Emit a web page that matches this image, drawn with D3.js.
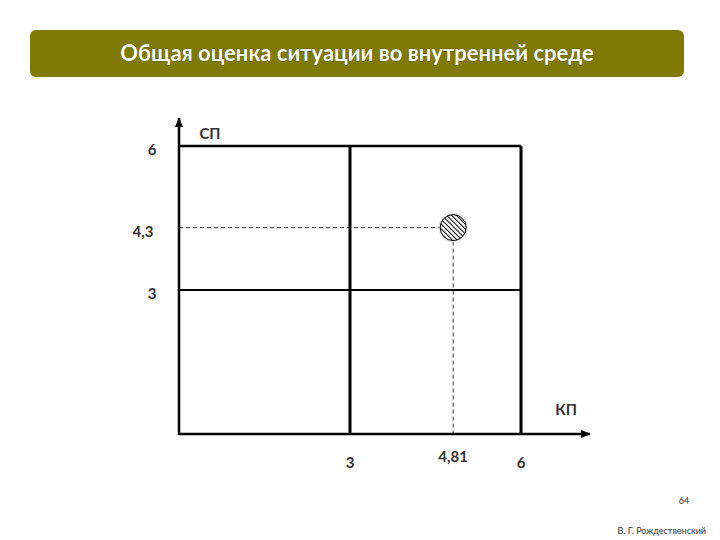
<!DOCTYPE html>
<html>
<head>
<meta charset="utf-8">
<script src="https://cdn.jsdelivr.net/npm/d3@7"></script>
<style>
  body { margin: 0; background: #fff; }
  text { font-family: Lato, "Open Sans", "DejaVu Sans", sans-serif; }
</style>
</head>
<body>
<svg id="chart" width="720" height="540"></svg>
<script>
// chart values
const title = "Общая оценка ситуации во внутренней среде";
const domainMax = 6;
const gridValues = [3, 6];            // quadrant lines on both axes
const xTickLabels = [[3, "3"], [4.81, "4,81"], [6, "6"]];
const yTickLabels = [[6, "6"], [4.3, "4,3"], [3, "3"]];
const point = { x: 4.81, y: 4.3 };
const xName = "КП";
const yName = "СП";
const pageNo = "64";
const author = "В. Г. Рождественский";

const svg = d3.select("#chart");

const x = d3.scaleLinear().domain([0, domainMax]).range([179, 521]);
const y = d3.scaleLinear().domain([0, domainMax]).range([434, 146]);

// title bar
svg.append("rect")
  .attr("x", 30).attr("y", 30).attr("width", 654).attr("height", 47)
  .attr("rx", 6).attr("fill", "#7e7a04");
svg.append("text")
  .attr("x", 357).attr("y", 61)
  .attr("text-anchor", "middle")
  .attr("fill", "#fff")
  .attr("font-size", 22).attr("font-weight", "bold")
  .style("paint-order", "stroke").attr("stroke", "#4a4700").attr("stroke-width", 0.6)
  .text(title);

const defs = svg.append("defs");
defs.append("marker")
  .attr("id", "arrow").attr("viewBox", "0 0 10 10")
  .attr("refX", 9).attr("refY", 5)
  .attr("markerWidth", 4).attr("markerHeight", 4)
  .attr("orient", "auto")
  .append("path").attr("d", "M0,1 L10,5 L0,9 Z").attr("fill", "#000");

const hatch = defs.append("pattern")
  .attr("id", "hatch").attr("patternUnits", "userSpaceOnUse")
  .attr("width", 3.4).attr("height", 3.4)
  .attr("patternTransform", "rotate(-45)");
hatch.append("rect").attr("width", 3.4).attr("height", 3.4).attr("fill", "#fff");
hatch.append("line").attr("x1", 0).attr("y1", 0).attr("x2", 0).attr("y2", 3.4)
  .attr("stroke", "#000").attr("stroke-width", 2);

// quadrant lines
const g = svg.append("g").attr("stroke", "#000").attr("fill", "none");
gridValues.forEach(v => {
  g.append("line")
    .attr("x1", x(0)).attr("x2", x(domainMax))
    .attr("y1", y(v)).attr("y2", y(v))
    .attr("stroke-width", v === domainMax ? 2.5 : 2);
  g.append("line")
    .attr("x1", x(v)).attr("x2", x(v))
    .attr("y1", y(0)).attr("y2", y(domainMax))
    .attr("stroke-width", 3);
});

// axes with arrows
g.append("line")
  .attr("x1", x(0)).attr("y1", y(0)).attr("x2", 590).attr("y2", y(0))
  .attr("stroke-width", 2.5).attr("marker-end", "url(#arrow)");
g.append("line")
  .attr("x1", x(0)).attr("y1", y(0) + 1).attr("x2", x(0)).attr("y2", 118)
  .attr("stroke-width", 2.5).attr("marker-end", "url(#arrow)");

// dashed guides to the point
g.append("line")
  .attr("x1", x(0)).attr("x2", x(point.x))
  .attr("y1", y(point.y)).attr("y2", y(point.y))
  .attr("stroke-width", 0.8).attr("stroke-dasharray", "4,3");
g.append("line")
  .attr("x1", x(point.x)).attr("x2", x(point.x))
  .attr("y1", y(point.y)).attr("y2", y(0))
  .attr("stroke-width", 0.8).attr("stroke-dasharray", "4,3");

// point
svg.append("circle")
  .attr("cx", x(point.x)).attr("cy", y(point.y)).attr("r", 15)
  .attr("fill", "#ddd").attr("opacity", 0.6);
svg.append("circle")
  .attr("cx", x(point.x)).attr("cy", y(point.y)).attr("r", 13)
  .attr("fill", "url(#hatch)").attr("stroke", "#000").attr("stroke-width", 1);

// tick labels
const labelStyle = sel => sel
  .attr("font-size", 15).attr("font-weight", "bold").attr("fill", "#333");

svg.selectAll(".xlab").data(xTickLabels).join("text")
  .attr("class", "xlab")
  .attr("x", d => x(d[0]))
  .attr("y", d => d[0] === point.x ? 462 : 468)
  .attr("text-anchor", "middle")
  .text(d => d[1])
  .call(labelStyle);

svg.selectAll(".ylab").data(yTickLabels).join("text")
  .attr("class", "ylab")
  .attr("x", d => d[0] === point.y ? 143 : 152)
  .attr("y", d => y(d[0]) + 9)
  .attr("text-anchor", "middle")
  .text(d => d[1])
  .call(labelStyle);

svg.append("text").attr("x", 210).attr("y", 139).attr("text-anchor", "middle")
  .text(yName).call(labelStyle);
svg.append("text").attr("x", 566).attr("y", 415).attr("text-anchor", "middle")
  .text(xName).call(labelStyle);

// footer
svg.append("text").attr("x", 684).attr("y", 504).attr("text-anchor", "middle")
  .attr("font-size", 9).attr("fill", "#333").text(pageNo);
svg.append("text").attr("x", 706).attr("y", 534).attr("text-anchor", "end")
  .attr("font-size", 9).attr("fill", "#333").text(author);
</script>
</body>
</html>
